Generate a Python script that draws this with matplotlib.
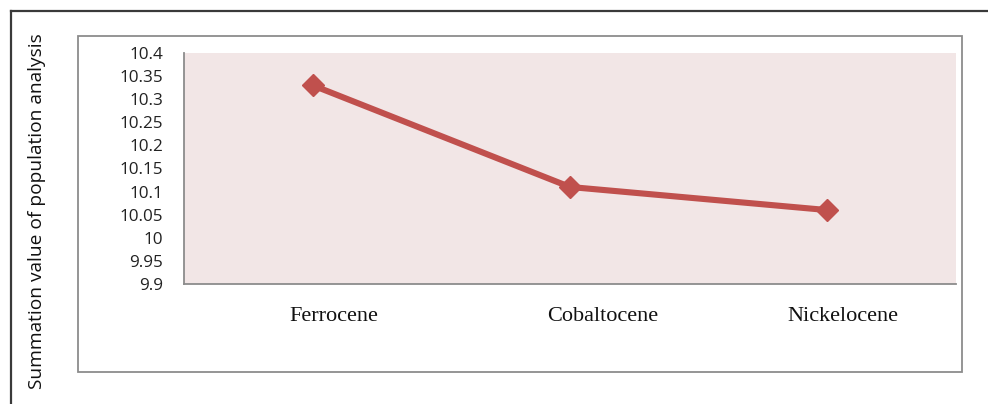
import matplotlib
matplotlib.use("Agg")
import matplotlib.pyplot as plt
from matplotlib.patches import Rectangle
from matplotlib.lines import Line2D
from matplotlib.transforms import ScaledTranslation

compounds = ["Ferrocene", "Cobaltocene", "Nickelocene"]
summation = [10.33, 10.11, 10.06]
y_ticks = [9.9, 9.95, 10.0, 10.05, 10.1, 10.15, 10.2, 10.25, 10.3, 10.35, 10.4]
y_tick_labels = ["9.9", "9.95", "10", "10.05", "10.1", "10.15", "10.2", "10.25", "10.3", "10.35", "10.4"]

W, H = 988, 404
fig = plt.figure(figsize=(W / 100, H / 100), dpi=100)
fig.patch.set_facecolor("white")

# outer frame (only top and left edges fall inside the canvas)
fig.add_artist(Line2D([11 / W, 1.0], [1 - 11 / H, 1 - 11 / H], transform=fig.transFigure,
                      color="#3a3a3a", lw=1.6))
fig.add_artist(Line2D([11 / W, 11 / W], [0.0, 1 - 11 / H], transform=fig.transFigure,
                      color="#3a3a3a", lw=1.6))

# chart-area border
fig.add_artist(Rectangle((78 / W, 1 - 372 / H), (962 - 78) / W, (372 - 36) / H,
                         transform=fig.transFigure, fill=False, edgecolor="#8c8c8c", lw=1.3))

ax = fig.add_axes([184 / W, 1 - 284 / H, (956 - 184) / W, (284 - 53) / H])
ax.set_facecolor("#f2e6e6")

x = list(range(len(compounds)))
ax.plot(x, summation, color="#c0504d", lw=4.4, marker="D", markersize=11.5,
        markerfacecolor="#c0504d", markeredgecolor="#c0504d", markeredgewidth=1,
        solid_joinstyle="round")

ax.set_xlim(-0.5, len(compounds) - 0.5)
ax.set_ylim(9.9, 10.4)
ax.set_yticks(y_ticks)
ax.set_yticklabels(y_tick_labels, fontfamily="Open Sans", fontsize=12.3, color="#222222")
ax.set_xticks(x)
ax.set_xticklabels(compounds, fontfamily="Liberation Serif", fontsize=16, color="#111111")
ax.tick_params(axis="y", length=0, pad=15)
ax.tick_params(axis="x", length=0, pad=16.5)

# category labels sit a little to the right of their category centres
label_shift_px = [21, 33, 16]
for lbl, dx in zip(ax.get_xticklabels(), label_shift_px):
    lbl.set_transform(lbl.get_transform() + ScaledTranslation(dx / 100, 0, fig.dpi_scale_trans))

for side in ("top", "right"):
    ax.spines[side].set_visible(False)
for side in ("left", "bottom"):
    ax.spines[side].set_color("#8c8c8c")
    ax.spines[side].set_linewidth(1.3)

fig.text(37 / W, 1 - 211 / H, "Summation value of population analysis", rotation=90,
         ha="center", va="center", fontfamily="Open Sans", fontsize=13.8, color="#111111")

fig.savefig("out.png", dpi=100)
